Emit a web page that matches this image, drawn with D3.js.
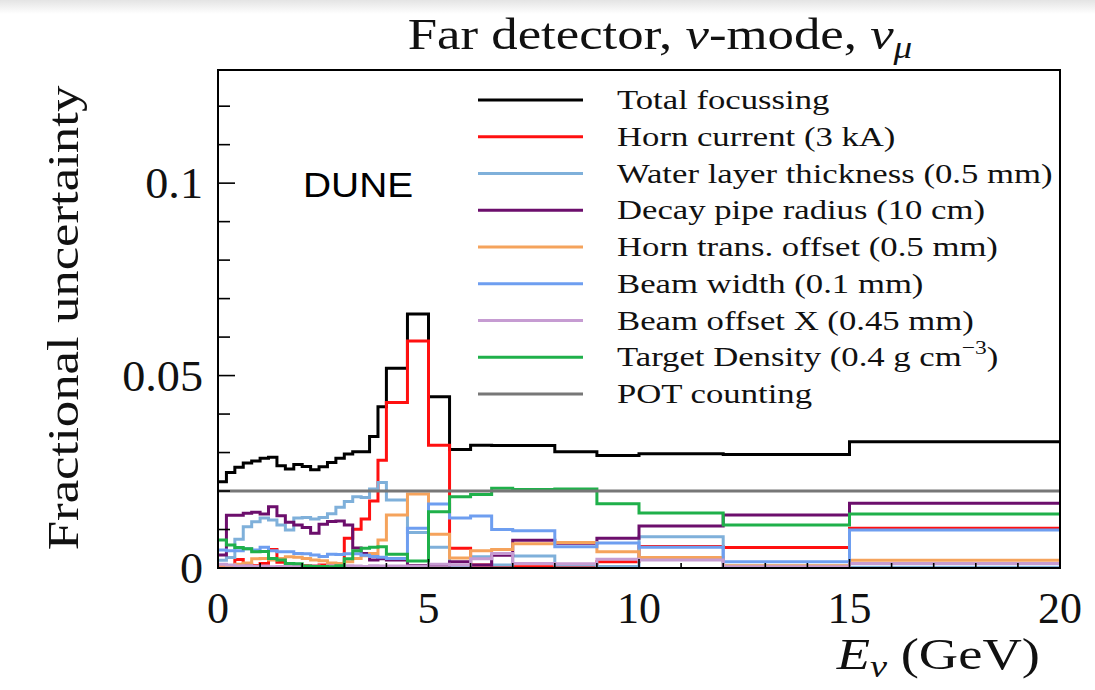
<!DOCTYPE html>
<html><head><meta charset="utf-8">
<script src="https://cdn.jsdelivr.net/npm/d3@7"></script>
<style>
html,body{margin:0;padding:0;background:#fff;}
svg{display:block;}
</style>
</head><body>
<svg id="chart" width="1095" height="690"></svg>
<script>
// ---------- data ----------
const binEdges = [0,0.2,0.4,0.6,0.8,1.0,1.2,1.4,1.6,1.8,2.0,2.2,2.4,2.6,2.8,3.0,3.2,3.4,3.6,3.8,4.0,4.5,5.0,5.5,6.0,6.5,7.0,8,9,10,12,15,20];
const totalFocussing = [0.0224,0.0248,0.0262,0.0273,0.0278,0.0285,0.0288,0.0266,0.0257,0.0269,0.0264,0.0255,0.0263,0.0274,0.0285,0.0296,0.0302,0.0302,0.0342,0.0419,0.0519,0.0660,0.0445,0.0308,0.0319,0.0318,0.0318,0.0302,0.0292,0.0297,0.0295,0.0328];
const hornCurrent = [0.0008,0.0005,0.0022,0.0010,0.0006,0.0012,0.0048,0.0015,0.0006,0.0004,0.0006,0.0005,0.0008,0.0010,0.0010,0.0077,0.0101,0.0127,0.0174,0.0280,0.0430,0.0590,0.0319,0.0051,0.0008,0.0004,0.0003,0.0003,0.0016,0.0056,0.0053,0.0103];
const waterLayer = [0.0020,0.0027,0.0075,0.0107,0.0120,0.0130,0.0125,0.0112,0.0099,0.0130,0.0131,0.0127,0.0131,0.0141,0.0158,0.0173,0.0185,0.0183,0.0205,0.0222,0.0177,0.0092,0.0054,0.0004,0.0029,0.0008,0.0031,0.0008,0.0004,0.0081,0.0005,0.0002];
const decayPipe = [0.0034,0.0137,0.0137,0.0142,0.0145,0.0140,0.0159,0.0136,0.0119,0.0112,0.0105,0.0090,0.0114,0.0121,0.0122,0.0112,0.0052,0.0038,0.0021,0.0024,0.0021,0.0006,0.0008,0.0016,0.0008,0.0033,0.0072,0.0064,0.0077,0.0109,0.0138,0.0168];
const hornOffset = [0.0008,0.0006,0.0010,0.0013,0.0024,0.0025,0.0021,0.0025,0.0029,0.0028,0.0025,0.0021,0.0019,0.0013,0.0012,0.0016,0.0025,0.0032,0.0038,0.0073,0.0138,0.0192,0.0088,0.0026,0.0045,0.0048,0.0063,0.0066,0.0042,0.0027,0.0006,0.0020];
const beamWidth = [0.0047,0.0045,0.0045,0.0050,0.0047,0.0054,0.0045,0.0042,0.0042,0.0038,0.0037,0.0034,0.0030,0.0036,0.0035,0.0037,0.0037,0.0033,0.0030,0.0028,0.0025,0.0103,0.0166,0.0130,0.0135,0.0100,0.0097,0.0055,0.0065,0.0054,0.0016,0.0099];
const beamOffsetX = [0.0010,0.0008,0.0005,0.0006,0.0004,0.0005,0.0003,0.0004,0.0005,0.0004,0.0003,0.0005,0.0004,0.0006,0.0005,0.0006,0.0005,0.0004,0.0006,0.0005,0.0005,0.0004,0.0010,0.0008,0.0024,0.0038,0.0012,0.0011,0.0023,0.0021,0.0003,0.0012];
const targetDensity = [0.0073,0.0060,0.0053,0.0050,0.0042,0.0043,0.0025,0.0021,0.0012,0.0011,0.0005,0.0004,0.0004,0.0003,0.0006,0.0024,0.0045,0.0051,0.0054,0.0055,0.0036,0.0018,0.0146,0.0185,0.0191,0.0207,0.0204,0.0205,0.0167,0.0143,0.0112,0.0140];
const potCounting = [0.02,0.02,0.02,0.02,0.02,0.02,0.02,0.02,0.02,0.02,0.02,0.02,0.02,0.02,0.02,0.02,0.02,0.02,0.02,0.02,0.02,0.02,0.02,0.02,0.02,0.02,0.02,0.02,0.02,0.02,0.02,0.02];

const seriesLabels = ["Total focussing","Horn current (3 kA)","Water layer thickness (0.5 mm)","Decay pipe radius (10 cm)","Horn trans. offset (0.5 mm)","Beam width (0.1 mm)","Beam offset X (0.45 mm)","Target Density (0.4 g cm","POT counting"];
const seriesColors = ["#000000","#ff1010","#7fb0da","#6c0e6c","#f5a35c","#6e9ef0","#c69cd2","#1fb04a","#777777"];
const xMajorTicks = [0,5,10,15,20];
const xMinorTicks = [1,2,3,4,6,7,8,9,11,12,13,14,16,17,18,19];
const yMajorTicks = [0,0.05,0.1];
const yTickLabels = ["0","0.05","0.1"];
const yMinorTicks = [0.01,0.02,0.03,0.04,0.06,0.07,0.08,0.09,0.11,0.12];

const seriesValues = [totalFocussing,hornCurrent,waterLayer,decayPipe,hornOffset,beamWidth,beamOffsetX,targetDensity,potCounting];

// ---------- layout ----------
const svg = d3.select("#chart");
const L = 218, R = 1060, T = 70, B = 568;
const x = d3.scaleLinear().domain([0,20]).range([L,R]);
const y = d3.scaleLinear().domain([0,0.1294]).range([B,T]);
const serif = "'Liberation Serif','Times New Roman',serif";

// slide-like top shading
const defs = svg.append("defs");
const grad = defs.append("linearGradient").attr("id","topg").attr("x1",0).attr("y1",0).attr("x2",0).attr("y2",1);
grad.append("stop").attr("offset","0%").attr("stop-color","#e4e4e4");
grad.append("stop").attr("offset","100%").attr("stop-color","#ffffff");
svg.append("rect").attr("x",0).attr("y",0).attr("width",1095).attr("height",14).attr("fill","url(#topg)");

defs.append("clipPath").attr("id","plotclip").append("rect").attr("x",L).attr("y",T).attr("width",R-L).attr("height",B-T+2);

// stretch helper (LaTeX fonts are wider than Times)
function stretch(g, sx){ g.attr("transform", (g.attr("transform")||"") + ` scale(${sx},1)`); }

// ---------- histograms ----------
const line = d3.line().x(d=>x(d[0])).y(d=>y(d[1])).curve(d3.curveStepAfter);
const plot = svg.append("g").attr("clip-path","url(#plotclip)");
seriesValues.forEach((vals,si)=>{
  const pts = binEdges.map((e,i)=>[e, vals[Math.min(i, vals.length-1)]]);
  plot.append("path").attr("d", line(pts)).attr("fill","none")
    .attr("stroke", seriesColors[si]).attr("stroke-width", 3).attr("stroke-linejoin","miter");
});

// ---------- frame & ticks ----------
svg.append("rect").attr("x",L).attr("y",T).attr("width",R-L).attr("height",B-T)
  .attr("fill","none").attr("stroke","#000").attr("stroke-width",2);

const ax = svg.append("g").attr("stroke","#000").attr("stroke-width",1.6);
yMajorTicks.forEach(v=>ax.append("line").attr("x1",L).attr("x2",L+17).attr("y1",y(v)).attr("y2",y(v)));
yMinorTicks.forEach(v=>ax.append("line").attr("x1",L).attr("x2",L+12).attr("y1",y(v)).attr("y2",y(v)));
xMajorTicks.forEach(v=>ax.append("line").attr("x1",x(v)).attr("x2",x(v)).attr("y1",B).attr("y2",B-9));
xMinorTicks.forEach(v=>ax.append("line").attr("x1",x(v)).attr("x2",x(v)).attr("y1",B).attr("y2",B-5));

// tick labels
yMajorTicks.forEach((v,i)=>{
  const g = svg.append("g").attr("transform",`translate(203,${y(v)+15})`);
  g.append("text").attr("text-anchor","end")
    .attr("font-family",serif).attr("font-size",44).attr("fill","#111").text(yTickLabels[i]);
  stretch(g, 1.05);
});
xMajorTicks.forEach(v=>{
  const g = svg.append("g").attr("transform",`translate(${x(v)},623)`);
  g.append("text").attr("text-anchor","middle")
    .attr("font-family",serif).attr("font-size",44).attr("fill","#111").text(String(v));
  stretch(g, 1.0);
});

// ---------- titles ----------
const tg = svg.append("g").attr("transform","translate(660,49)");
const tt = tg.append("text").attr("text-anchor","middle").attr("font-family",serif).attr("font-size",44).attr("fill","#111");
tt.append("tspan").text("Far detector, ");
tt.append("tspan").attr("font-style","italic").text("ν");
tt.append("tspan").text("-mode, ");
tt.append("tspan").attr("font-style","italic").text("ν");
tt.append("tspan").attr("font-style","italic").attr("font-size",31).attr("dy",9).text("μ");
stretch(tg, 1.2);

const yl = svg.append("g").attr("transform","translate(78,318) rotate(-90)");
yl.append("text").attr("text-anchor","middle").attr("font-family",serif).attr("font-size",44).attr("fill","#111").text("Fractional uncertainty");
stretch(yl, 1.2);

const xl = svg.append("g").attr("transform","translate(1040,669)");
const xt = xl.append("text").attr("text-anchor","end").attr("font-family",serif).attr("font-size",44).attr("fill","#111");
xt.append("tspan").attr("font-style","italic").text("E");
xt.append("tspan").attr("font-style","italic").attr("font-size",31).attr("dy",8).text("ν");
xt.append("tspan").attr("dy",-8).text(" (GeV)");
stretch(xl, 1.24);

// DUNE label
const dg = svg.append("g").attr("transform","translate(303,197)");
dg.append("text").attr("font-family","'Liberation Sans',Arial,sans-serif")
  .attr("font-size",36).attr("fill","#000").text("DUNE");
stretch(dg, 1.08);

// ---------- legend ----------
const legX0 = 478, legX1 = 583, legTextX = 617, legY0 = 100, legDy = 36.75;
const leg = svg.append("g");
seriesLabels.forEach((lab,i)=>{
  const yy = legY0 + i*legDy;
  leg.append("line").attr("x1",legX0).attr("x2",legX1).attr("y1",yy).attr("y2",yy)
    .attr("stroke",seriesColors[i]).attr("stroke-width",3);
  const g = leg.append("g").attr("transform",`translate(${legTextX},${yy+9})`);
  const t = g.append("text").attr("font-family",serif).attr("font-size",28).attr("fill","#111").text(lab);
  if(i===7){
    t.append("tspan").attr("font-size",19).attr("dy",-12).text("−3");
    t.append("tspan").attr("dy",12).text(")");
  }
  stretch(g, 1.24);
});
</script>
</body></html>
